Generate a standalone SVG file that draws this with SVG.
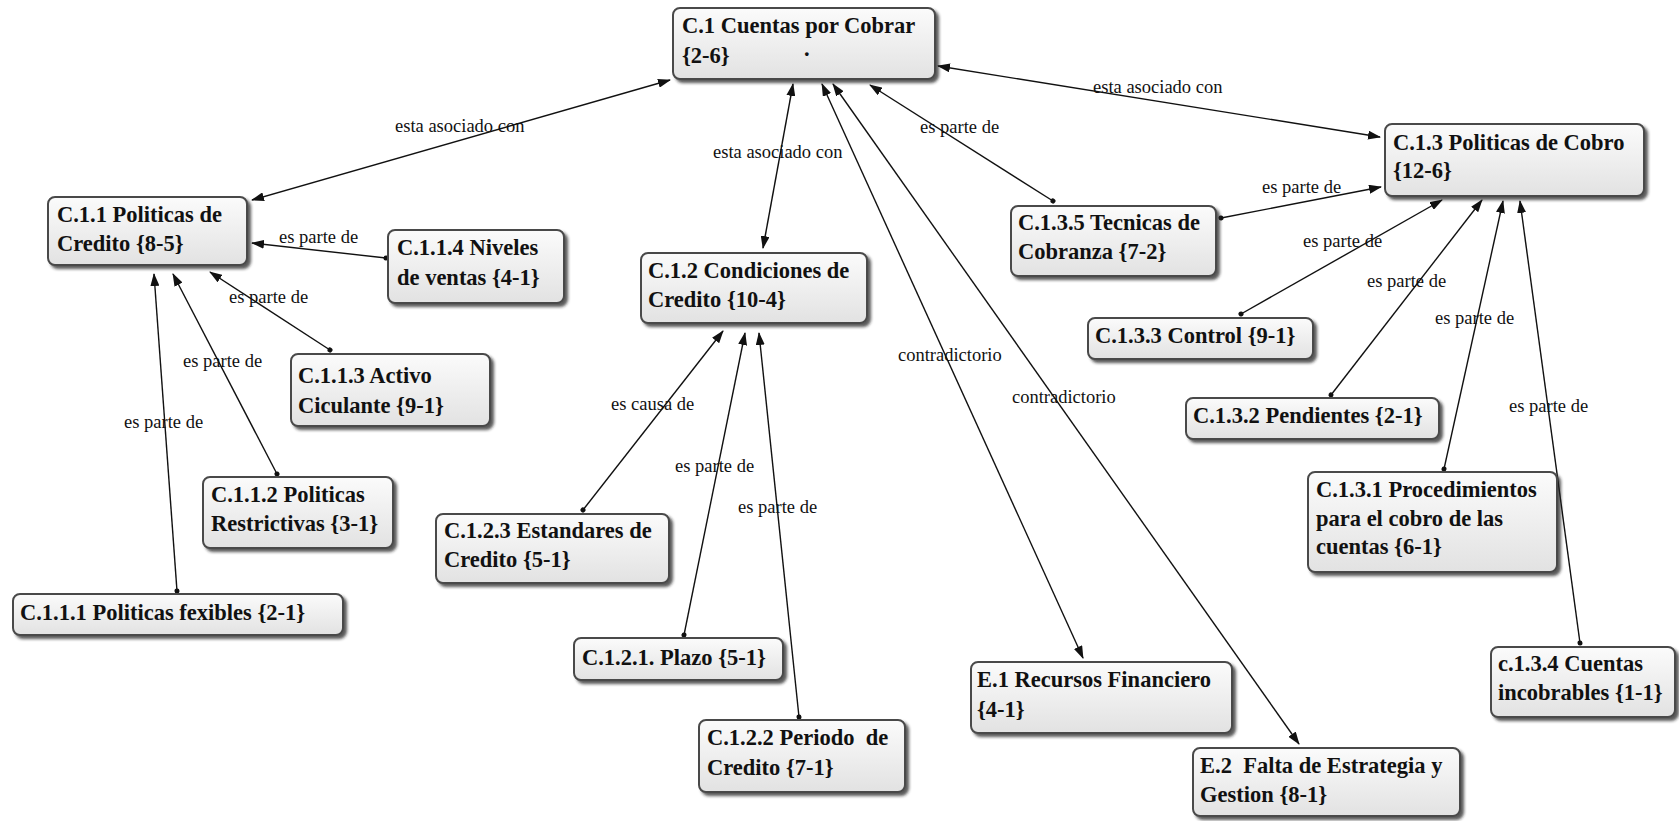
<svg xmlns="http://www.w3.org/2000/svg" width="1679" height="821" viewBox="0 0 1679 821">
<style>
.box{fill:url(#g);stroke:#4a4a4a;stroke-width:2;filter:url(#sh)}
.t{font-family:"Liberation Serif","Times New Roman",serif;font-weight:bold;font-size:22.5px;fill:#111;white-space:pre}
.l{font-family:"Liberation Serif","Times New Roman",serif;font-size:18.5px;fill:#111}
.e{stroke:#111;stroke-width:1.4;fill:none;marker-end:url(#ah)}
.s{marker-start:url(#dot)}
.b{marker-start:url(#ahs)}
</style>
<defs>
<linearGradient id="g" x1="0" y1="0" x2="0" y2="1">
<stop offset="0" stop-color="#fbfbfb"/>
<stop offset="1" stop-color="#e2e2e2"/>
</linearGradient>
<filter id="sh" x="-10%" y="-10%" width="130%" height="140%">
<feDropShadow dx="3" dy="3" stdDeviation="1.6" flood-color="#222" flood-opacity="0.75"/>
</filter>
<marker id="ah" markerUnits="userSpaceOnUse" markerWidth="13" markerHeight="9" refX="12" refY="4.5" orient="auto">
<path d="M0,0 L13,4.5 L0,9 z" fill="#111"/>
</marker>
<marker id="ahs" markerUnits="userSpaceOnUse" markerWidth="13" markerHeight="9" refX="12" refY="4.5" orient="auto-start-reverse">
<path d="M0,0 L13,4.5 L0,9 z" fill="#111"/>
</marker>
<marker id="dot" markerUnits="userSpaceOnUse" markerWidth="6" markerHeight="6" refX="3" refY="3" orient="auto">
<circle cx="3" cy="3" r="2.5" fill="#111"/>
</marker>
</defs>
<rect width="1679" height="821" fill="#fff"/>
<g id="connectors">
<line class="e b" x1="670" y1="80" x2="252" y2="200"/>
<line class="e b" x1="793" y1="84" x2="763" y2="248"/>
<line class="e s" x1="1053" y1="201" x2="870" y2="85"/>
<line class="e b" x1="938" y1="66" x2="1380" y2="137"/>
<line class="e s" x1="1221" y1="218" x2="1381" y2="187"/>
<line class="e s" x1="386" y1="258" x2="252" y2="243"/>
<line class="e s" x1="330" y1="350" x2="210" y2="272"/>
<line class="e s" x1="277" y1="474" x2="173" y2="274"/>
<line class="e s" x1="177" y1="591" x2="154" y2="274"/>
<line class="e s" x1="583" y1="510" x2="723" y2="331"/>
<line class="e s" x1="684" y1="635" x2="745" y2="333"/>
<line class="e s" x1="799" y1="717" x2="759" y2="333"/>
<line class="e b" x1="822" y1="84" x2="1083" y2="658"/>
<line class="e b" x1="833" y1="84" x2="1299" y2="744"/>
<line class="e s" x1="1241" y1="314" x2="1442" y2="200"/>
<line class="e s" x1="1331" y1="395" x2="1482" y2="200"/>
<line class="e s" x1="1444" y1="469" x2="1503" y2="201"/>
<line class="e s" x1="1580" y1="643" x2="1520" y2="201"/>
<text class="l" x="395" y="132">esta asociado con</text>
<text class="l" x="713" y="158">esta asociado con</text>
<text class="l" x="920" y="133">es parte de</text>
<text class="l" x="1093" y="93">esta asociado con</text>
<text class="l" x="1262" y="193">es parte de</text>
<text class="l" x="279" y="243">es parte de</text>
<text class="l" x="229" y="303">es parte de</text>
<text class="l" x="183" y="367">es parte de</text>
<text class="l" x="124" y="428">es parte de</text>
<text class="l" x="611" y="410">es causa de</text>
<text class="l" x="675" y="472">es parte de</text>
<text class="l" x="738" y="513">es parte de</text>
<text class="l" x="898" y="361">contradictorio</text>
<text class="l" x="1012" y="403">contradictorio</text>
<text class="l" x="1303" y="247">es parte de</text>
<text class="l" x="1367" y="287">es parte de</text>
<text class="l" x="1435" y="324">es parte de</text>
<text class="l" x="1509" y="412">es parte de</text>
</g>
<g id="n-c1"><rect class="box" x="673" y="8" width="262" height="71" rx="7"/><text class="t" x="682" y="33">C.1 Cuentas por Cobrar</text><text class="t" x="682" y="63">{2-6}</text><text class="t" x="804" y="56">.</text></g>
<g id="n-c11"><rect class="box" x="48" y="197" width="199" height="68" rx="7"/><text class="t" x="57" y="222">C.1.1 Politicas de</text><text class="t" x="57" y="251">Credito {8-5}</text></g>
<g id="n-c114"><rect class="box" x="388" y="230" width="176" height="73" rx="7"/><text class="t" x="397" y="255">C.1.1.4 Niveles</text><text class="t" x="397" y="285">de ventas {4-1}</text></g>
<g id="n-c113"><rect class="box" x="291" y="354" width="199" height="72" rx="7"/><text class="t" x="298" y="383">C.1.1.3 Activo</text><text class="t" x="298" y="413">Ciculante {9-1}</text></g>
<g id="n-c112"><rect class="box" x="203" y="477" width="190" height="71" rx="7"/><text class="t" x="211" y="502">C.1.1.2 Politicas</text><text class="t" x="211" y="531">Restrictivas {3-1}</text></g>
<g id="n-c111"><rect class="box" x="13" y="594" width="330" height="41" rx="7"/><text class="t" x="20" y="620">C.1.1.1 Politicas fexibles {2-1}</text></g>
<g id="n-c12"><rect class="box" x="641" y="253" width="226" height="70" rx="7"/><text class="t" x="648" y="278">C.1.2 Condiciones de</text><text class="t" x="648" y="307">Credito {10-4}</text></g>
<g id="n-c123"><rect class="box" x="436" y="514" width="233" height="69" rx="7"/><text class="t" x="444" y="538">C.1.2.3 Estandares de</text><text class="t" x="444" y="567">Credito {5-1}</text></g>
<g id="n-c121"><rect class="box" x="574" y="638" width="209" height="42" rx="7"/><text class="t" x="582" y="665">C.1.2.1. Plazo {5-1}</text></g>
<g id="n-c122"><rect class="box" x="699" y="720" width="206" height="72" rx="7"/><text class="t" x="707" y="745">C.1.2.2 Periodo  de</text><text class="t" x="707" y="775">Credito {7-1}</text></g>
<g id="n-e1"><rect class="box" x="971" y="662" width="261" height="71" rx="7"/><text class="t" x="977" y="687">E.1 Recursos Financiero</text><text class="t" x="977" y="717">{4-1}</text></g>
<g id="n-e2"><rect class="box" x="1193" y="748" width="267" height="68" rx="7"/><text class="t" x="1200" y="773">E.2  Falta de Estrategia y</text><text class="t" x="1200" y="802">Gestion {8-1}</text></g>
<g id="n-c13"><rect class="box" x="1385" y="124" width="259" height="72" rx="7"/><text class="t" x="1393" y="150">C.1.3 Politicas de Cobro</text><text class="t" x="1393" y="178">{12-6}</text></g>
<g id="n-c135"><rect class="box" x="1011" y="206" width="205" height="70" rx="7"/><text class="t" x="1018" y="230">C.1.3.5 Tecnicas de</text><text class="t" x="1018" y="259">Cobranza {7-2}</text></g>
<g id="n-c133"><rect class="box" x="1088" y="318" width="225" height="41" rx="7"/><text class="t" x="1095" y="343">C.1.3.3 Control {9-1}</text></g>
<g id="n-c132"><rect class="box" x="1186" y="398" width="253" height="41" rx="7"/><text class="t" x="1193" y="423">C.1.3.2 Pendientes {2-1}</text></g>
<g id="n-c131"><rect class="box" x="1308" y="472" width="249" height="100" rx="7"/><text class="t" x="1316" y="497">C.1.3.1 Procedimientos</text><text class="t" x="1316" y="526">para el cobro de las</text><text class="t" x="1316" y="554">cuentas {6-1}</text></g>
<g id="n-c134"><rect class="box" x="1491" y="647" width="184" height="70" rx="7"/><text class="t" x="1498" y="671">c.1.3.4 Cuentas</text><text class="t" x="1498" y="700">incobrables {1-1}</text></g>
</svg>
